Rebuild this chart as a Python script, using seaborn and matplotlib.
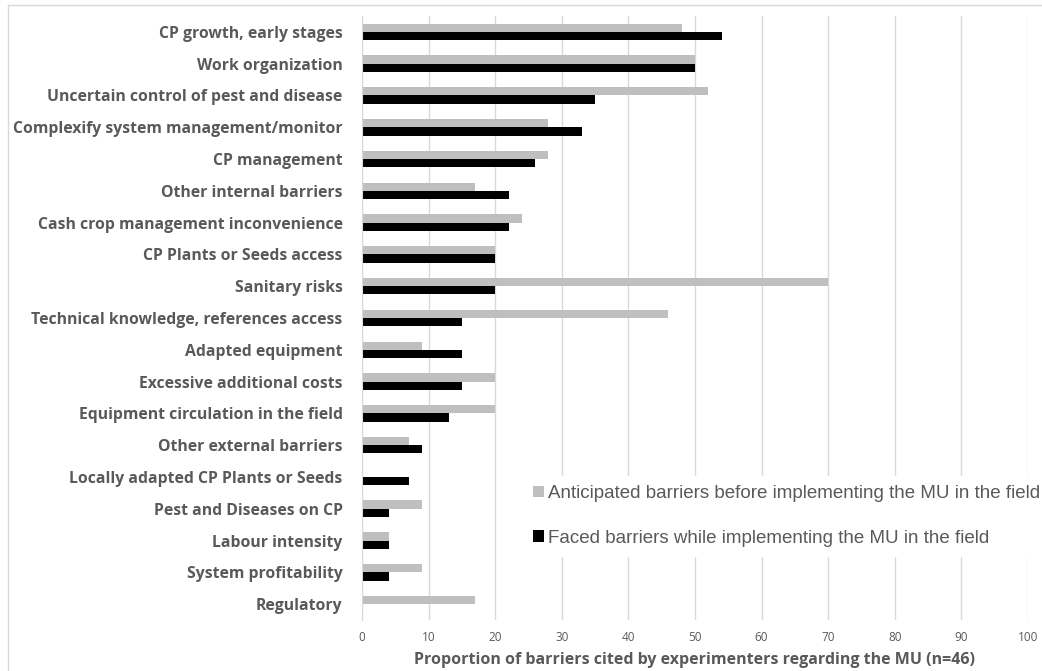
import pandas as pd
import matplotlib
matplotlib.use("Agg")
import matplotlib.pyplot as plt
import seaborn as sns
from matplotlib.lines import Line2D
from matplotlib.patches import Patch

# ---------------- data ----------------
barriers = [
    "CP growth, early stages",
    "Work organization",
    "Uncertain control of pest and disease",
    "Complexify system management/monitor",
    "CP management",
    "Other internal barriers",
    "Cash crop management inconvenience",
    "CP Plants or Seeds access",
    "Sanitary risks",
    "Technical knowledge, references access",
    "Adapted equipment",
    "Excessive additional costs",
    "Equipment circulation in the field",
    "Other external barriers",
    "Locally adapted CP Plants or Seeds",
    "Pest and Diseases on CP",
    "Labour intensity",
    "System profitability",
    "Regulatory",
]
anticipated = [48, 50, 52, 28, 28, 17, 24, 20, 70, 46, 9, 20, 20, 7, 0, 9, 4, 9, 17]
faced = [54, 50, 35, 33, 26, 22, 22, 20, 20, 15, 15, 15, 13, 9, 7, 4, 4, 4, 0]

series_names = ["Anticipated barriers before implementing the MU in the field",
                "Faced barriers while implementing the MU in the field"]
series_colors = ["#BFBFBF", "#000000"]

df = pd.DataFrame({
    "barrier": barriers * 2,
    "value": anticipated + faced,
    "series": [series_names[0]] * len(barriers) + [series_names[1]] * len(barriers),
})

# ---------------- plot ----------------
sns.set_style("white")
plt.rcParams["font.family"] = ["Open Sans", "DejaVu Sans"]
txt = "#595959"

fig = plt.figure(figsize=(10.42, 6.71), dpi=100)
ax = fig.add_axes([362 / 1042, 1 - 620 / 671, (1028 - 362) / 1042, (620 - 16) / 671])

sns.barplot(data=df, y="barrier", x="value", hue="series", order=barriers,
            hue_order=series_names, palette=series_colors, orient="h",
            width=0.52, ax=ax, legend=False, linewidth=0)

ax.set_xlim(0, 100)
ax.set_xticks(range(0, 101, 10))
ax.xaxis.grid(True, color="#D9D9D9", linewidth=1)
ax.set_axisbelow(True)
for s in ["top", "right", "bottom"]:
    ax.spines[s].set_visible(False)
ax.spines["left"].set_color("#D9D9D9")
ax.tick_params(axis="both", length=0)
ax.tick_params(axis="x", labelsize=8.5, labelcolor=txt, pad=8)
ax.tick_params(axis="y", labelsize=11.3, labelcolor=txt, pad=14)
for lab in ax.get_yticklabels():
    lab.set_fontweight("bold")
ax.set_ylabel("")
ax.set_xlabel("Proportion of barriers cited by experimenters regarding the MU (n=46)",
              fontsize=11.5, fontweight="bold", color=txt, labelpad=6)

handles = [Patch(facecolor=c, edgecolor="none") for c in series_colors]
leg = fig.legend(handles, series_names, loc="upper left",
                 bbox_to_anchor=(524 / 1042, 1 - 476 / 671),
                 frameon=True, framealpha=1, edgecolor="white", facecolor="white",
                 prop={"family": ["Liberation Sans"], "size": 13.5},
                 labelspacing=1.45, handlelength=0.55, handleheight=0.55,
                 handletextpad=0.25, borderpad=0.5, borderaxespad=0)
for t in leg.get_texts():
    t.set_color(txt)

# outer chart border (top and left visible)
fig.add_artist(Line2D([8 / 1042, 8 / 1042], [0, 1 - 5 / 671], color="#D9D9D9", lw=1))
fig.add_artist(Line2D([8 / 1042, 1], [1 - 5 / 671, 1 - 5 / 671], color="#D9D9D9", lw=1))

fig.savefig("out.png", dpi=100)
